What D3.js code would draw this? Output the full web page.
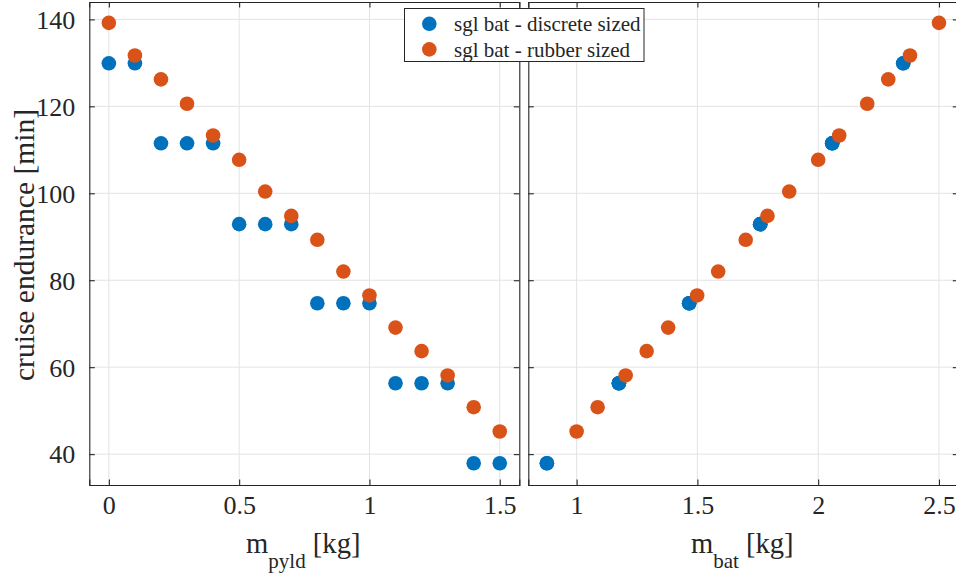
<!DOCTYPE html>
<html>
<head>
<meta charset="utf-8">
<script src="https://cdn.jsdelivr.net/npm/d3@7"></script>
<style>
  html, body { margin: 0; padding: 0; background: #fff; }
  svg { display: block; }
</style>
</head>
<body>
<svg id="chart" width="956" height="573"></svg>
<script>
// Payload mass sweep [kg]
const mPyld = [0, 0.1, 0.2, 0.3, 0.4, 0.5, 0.6, 0.7, 0.8, 0.9, 1.0, 1.1, 1.2, 1.3, 1.4, 1.5];

// Cruise endurance [min], discrete battery sizes
const endDiscrete = [129.9, 129.9, 111.5, 111.5, 111.5, 92.9, 92.9, 92.9,
                     74.7, 74.7, 74.7, 56.3, 56.3, 56.3, 37.9, 37.9];
// Cruise endurance [min], rubber-sized battery
const endRubber = [139.2, 131.7, 126.2, 120.6, 113.3, 107.7, 100.4, 94.8,
                   89.3, 82.0, 76.5, 69.1, 63.7, 58.1, 50.8, 45.2];

// Battery mass [kg] for each payload case
const mBatDiscrete = [2.352, 2.352, 2.058, 2.058, 2.058, 1.76, 1.76, 1.76,
                      1.466, 1.466, 1.466, 1.175, 1.175, 1.175, 0.877, 0.877];
const mBatRubber = [2.5, 2.38, 2.29, 2.203, 2.087, 2.0, 1.88, 1.79,
                    1.70, 1.586, 1.499, 1.379, 1.29, 1.203, 1.087, 1.0];

const seriesNames = ["sgl bat - discrete sized", "sgl bat - rubber sized"];
const seriesColors = ["#0072BD", "#D95319"];

const xTicksLeft = [0, 0.5, 1, 1.5];
const xTicksRight = [1, 1.5, 2, 2.5];
const yTicks = [40, 60, 80, 100, 120, 140];

const svg = d3.select("#chart");
const axisColor = "#262626";
const gridColor = "#e3e3e3";
const serif = '"Liberation Serif"';
const tickFont = 26;
const labelFont = 28.6;
const tickLen = 5.5;
const markerR = 7.3;

const plotTop = 2, plotBottom = 485;
const y = d3.scaleLinear().domain([32.9, 144]).range([plotBottom, plotTop]);

const panels = [
  { x0: 89.3, x1: 519.3, domain: [-0.075, 1.575], ticks: xTicksLeft,
    xs: [mPyld, mPyld], ys: [endDiscrete, endRubber], sub: "pyld", yLabels: true },
  { x0: 528.3, x1: 958.3, domain: [0.8, 2.58], ticks: xTicksRight,
    xs: [mBatDiscrete, mBatRubber], ys: [endDiscrete, endRubber], sub: "bat", yLabels: false }
];

const fmt = d => String(d);

panels.forEach(p => {
  const x = d3.scaleLinear().domain(p.domain).range([p.x0, p.x1]);
  const g = svg.append("g");

  // grid
  g.append("g").selectAll("line").data(p.ticks).join("line")
    .attr("x1", d => x(d)).attr("x2", d => x(d))
    .attr("y1", plotTop).attr("y2", plotBottom)
    .attr("stroke", gridColor).attr("stroke-width", 1);
  g.append("g").selectAll("line").data(yTicks).join("line")
    .attr("x1", p.x0).attr("x2", p.x1)
    .attr("y1", d => y(d)).attr("y2", d => y(d))
    .attr("stroke", gridColor).attr("stroke-width", 1);

  // markers
  [0, 1].forEach(s => {
    g.append("g").selectAll("circle").data(p.ys[s]).join("circle")
      .attr("cx", (d, i) => x(p.xs[s][i]))
      .attr("cy", d => y(d))
      .attr("r", markerR)
      .attr("fill", seriesColors[s]);
  });

  // axes with inward ticks on all four sides
  const axB = d3.axisBottom(x).tickValues(p.ticks).tickSize(-tickLen).tickFormat(fmt).tickPadding(tickLen + 23);
  const axT = d3.axisTop(x).tickValues(p.ticks).tickSize(-tickLen).tickFormat("");
  const axL = d3.axisLeft(y).tickValues(yTicks).tickSize(-tickLen)
    .tickFormat(p.yLabels ? fmt : "").tickPadding(tickLen + 8.5);
  const axR = d3.axisRight(y).tickValues(yTicks).tickSize(-tickLen).tickFormat("");

  const styleAxis = sel => {
    sel.attr("font-family", null).attr("font-size", null);
    sel.selectAll("path").attr("stroke", axisColor).attr("stroke-width", 1.1);
    sel.selectAll("line").attr("stroke", axisColor).attr("stroke-width", 1.1);
    sel.selectAll("text").attr("fill", axisColor)
      .style("font-family", serif).style("font-size", tickFont + "px");
  };

  const gb = g.append("g").attr("transform", `translate(0,${plotBottom})`).call(axB).call(styleAxis);
  gb.selectAll(".tick text").attr("dy", null).attr("dominant-baseline", "alphabetic");
  g.append("g").attr("transform", `translate(0,${plotTop})`).call(axT).call(styleAxis);
  const gl = g.append("g").attr("transform", `translate(${p.x0},0)`).call(axL).call(styleAxis);
  gl.selectAll(".tick text").attr("dy", "0.34em");
  g.append("g").attr("transform", `translate(${p.x1},0)`).call(axR).call(styleAxis);

  // x label with subscript
  const xl = g.append("text")
    .attr("x", (p.x0 + p.x1) / 2 - 1)
    .attr("y", 553)
    .attr("text-anchor", "middle")
    .attr("fill", axisColor)
    .style("font-family", serif)
    .style("font-size", labelFont + "px");
  xl.append("tspan").text("m");
  xl.append("tspan").attr("dy", 15).style("font-size", "21px").text(p.sub);
  xl.append("tspan").attr("dy", -15).text("\u00a0[kg]");
});

// y label
svg.append("text")
  .attr("transform", "translate(34,245) rotate(-90)")
  .attr("text-anchor", "middle")
  .attr("fill", axisColor)
  .style("font-family", serif)
  .style("font-size", "29.5px")
  .text("cruise endurance [min]");

// legend
const lg = svg.append("g");
lg.append("rect")
  .attr("x", 404.5).attr("y", 8.5).attr("width", 239.5).attr("height", 53)
  .attr("fill", "#fff").attr("stroke", axisColor).attr("stroke-width", 1);
seriesNames.forEach((name, i) => {
  const cy = 23.8 + i * 25.6;
  lg.append("circle").attr("cx", 429.3).attr("cy", cy).attr("r", markerR).attr("fill", seriesColors[i]);
  lg.append("text").attr("x", 454).attr("y", cy).attr("dy", "0.34em")
    .attr("fill", axisColor)
    .style("font-family", serif)
    .style("font-size", "21px").text(name);
});
</script>
</body>
</html>
